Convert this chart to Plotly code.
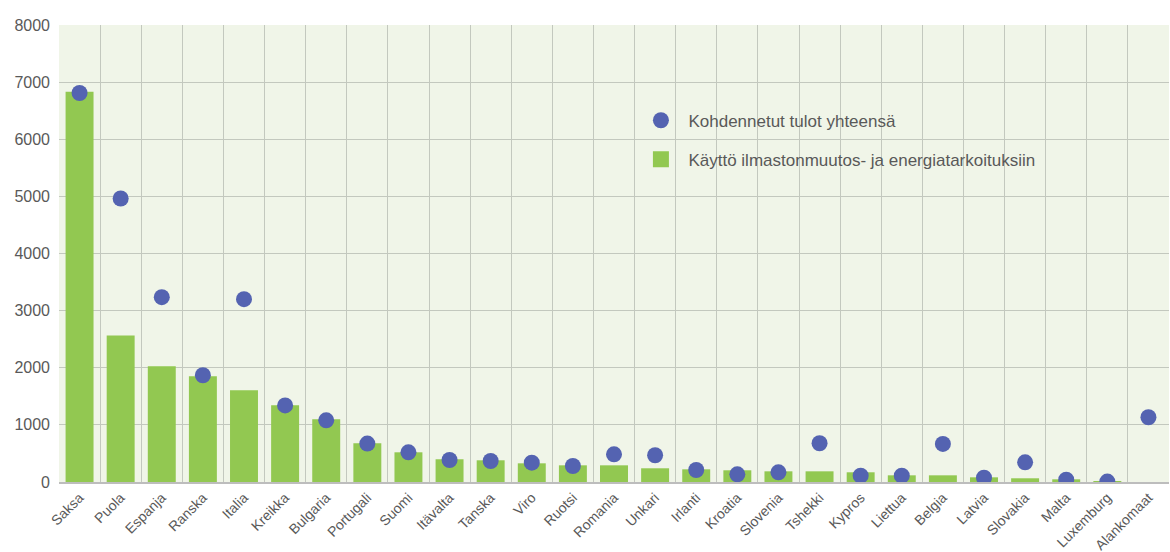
import plotly.graph_objects as go

countries = ["Saksa", "Puola", "Espanja", "Ranska", "Italia", "Kreikka", "Bulgaria",
             "Portugali", "Suomi", "Itävalta", "Tanska", "Viro", "Ruotsi", "Romania",
             "Unkari", "Irlanti", "Kroatia", "Slovenia", "Tshekki", "Kypros", "Liettua",
             "Belgia", "Latvia", "Slovakia", "Malta", "Luxemburg", "Alankomaat"]
kaytto = [6830, 2566, 2026, 1851, 1606, 1343, 1098, 678, 520, 398, 380, 327, 292, 292,
          240, 222, 205, 187, 187, 170, 117, 117, 82, 65, 47, 12, 0]
tulot = [6810, 4963, 3235, 1869, 3200, 1340, 1080, 672, 520, 385, 368, 339, 280, 485,
         468, 210, 135, 170, 678, 111, 111, 666, 76, 345, 41, 7, 1133]
y_ticks = [0, 1000, 2000, 3000, 4000, 5000, 6000, 7000, 8000]
name_bar = "Käyttö ilmastonmuutos- ja energiatarkoituksiin"
name_dot = "Kohdennetut tulot yhteensä"

bar_color = "#92C851"
dot_color = "#5463B1"
text_color = "#595959"

fig = go.Figure()
fig.add_trace(go.Bar(
    x=countries, y=kaytto, name=name_bar, showlegend=False,
    marker=dict(color=bar_color, line=dict(width=0)),
))
fig.add_trace(go.Scatter(
    x=countries, y=tulot, mode="markers", name=name_dot, showlegend=False,
    marker=dict(color=dot_color, size=16, line=dict(width=0)),
))
# legend proxies (larger swatches, as in the reference)
fig.add_trace(go.Scatter(
    x=[None], y=[None], mode="markers", name=name_dot, legendgroup="a", legendrank=1,
    marker=dict(color=dot_color, size=20, line=dict(width=0)),
))
fig.add_trace(go.Scatter(
    x=[None], y=[None], mode="markers", name=name_bar, legendgroup="b", legendrank=2,
    marker=dict(color=bar_color, size=21, symbol="square", line=dict(width=0)),
))

fig.update_layout(
    width=1170, height=552,
    margin=dict(l=59, r=1, t=25, b=70),
    paper_bgcolor="white",
    plot_bgcolor="#F0F5E8",
    bargap=0.32,
    font=dict(family="Liberation Sans, Arial, sans-serif", color=text_color, size=14),
    legend=dict(
        x=0.5175, y=0.83, xanchor="left", yanchor="top",
        bgcolor="rgba(0,0,0,0)", font=dict(size=17, color=text_color),
        itemsizing="trace", tracegroupgap=14, itemwidth=45,
    ),
)
fig.update_xaxes(
    type="category", tickson="boundaries", showgrid=True, gridcolor="#C3C8BE", gridwidth=1,
    tickangle=-45, tickfont=dict(size=14, color=text_color), automargin=False,
    showline=True, linecolor="#BDBDBD", linewidth=2, ticks="",
    range=[-0.5, 26.5], ticklabelstandoff=0,
)
fig.update_yaxes(
    range=[0, 8000], tickvals=y_ticks, showgrid=True, gridcolor="#C3C8BE", gridwidth=1,
    zeroline=False, tickfont=dict(size=16, color=text_color), ticks="", automargin=False,
    ticklabelstandoff=8,
)

fig.write_html("out.html", config={"displayModeBar": False},
               post_script="document.body.style.margin='0';document.body.style.overflow='hidden';")
